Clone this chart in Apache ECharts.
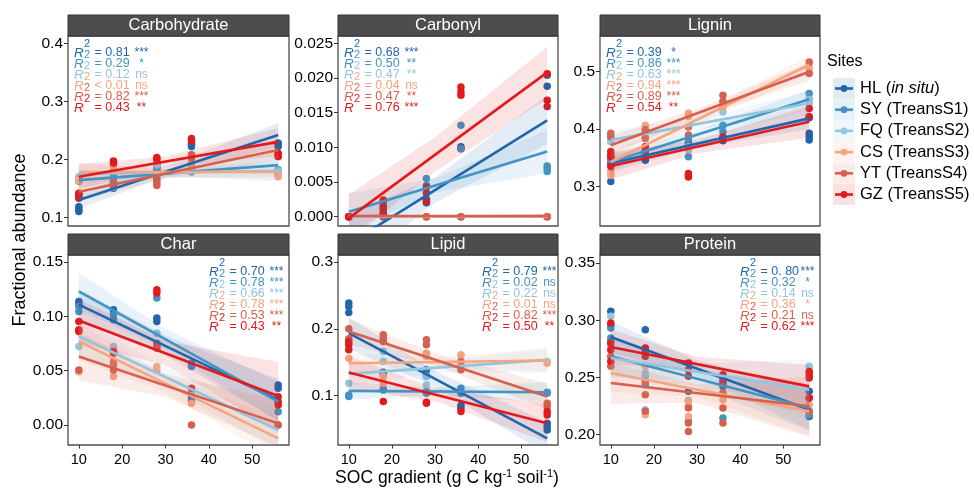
<!DOCTYPE html>
<html>
<head>
<meta charset="utf-8">
<script src="https://cdn.jsdelivr.net/npm/echarts@6/dist/echarts.min.js"></script>
<style>
  html, body { margin: 0; padding: 0; background: #fff; }
  #chart { width: 974px; height: 489px; }
</style>
</head>
<body>
<div id="chart"></div>
<script>
// sites and SOC levels
const siteNames = ['HL', 'SY', 'FQ', 'CS', 'YT', 'GZ']
const siteLabels = ['HL (in situ)', 'SY (TreansS1)', 'FQ (TreansS2)', 'CS (TreansS3)', 'YT (TreansS4)', 'GZ (TreansS5)']
const siteColors = ['#2166ac', '#4393c3', '#92c5de', '#f4a582', '#d6604d', '#e31a1c']
const socLevels = [10, 18, 28, 36, 56]
const fitX = [10, 56]
const bandX = [10, 30, 56]
const panelTitles = ['Carbohydrate', 'Carbonyl', 'Lignin', 'Char', 'Lipid', 'Protein']
const xTicks = [10, 20, 30, 40, 50]

// y axis ticks per panel
const carbohydrateTicks = [0.1, 0.2, 0.3, 0.4]
const carbonylTicks = [0, 0.005, 0.01, 0.015, 0.02, 0.025]
const ligninTicks = [0.3, 0.4, 0.5]
const charTicks = [0, 0.05, 0.1, 0.15]
const lipidTicks = [0.1, 0.2, 0.3]
const proteinTicks = [0.2, 0.25, 0.3, 0.35]

// points: per site, replicates at each SOC level
const carbohydratePoints = [
  [[0.110, 0.114, 0.118], [0.150, 0.155, 0.160], [0.178, 0.182, 0.190], [0.222, 0.226, 0.228], [0.222, 0.226, 0.228]],
  [[0.162, 0.166], [0.168, 0.172], [0.182, 0.186], [0.178, 0.182], [0.176, 0.182]],
  [[0.165, 0.170], [0.152, 0.160], [0.190, 0.195], [0.180, 0.184], [0.178, 0.180]],
  [[0.163, 0.166], [0.185, 0.190], [0.168, 0.172], [0.190, 0.194], [0.170, 0.173]],
  [[0.138, 0.142], [0.155, 0.160], [0.155, 0.160, 0.165], [0.203, 0.208], [0.205, 0.210]],
  [[0.133, 0.138, 0.140], [0.193, 0.197], [0.200, 0.203], [0.232, 0.236], [0.205, 0.210]]
]
const carbonylPoints = [
  [[0, 0], [0, 0.0005], [0.0020, 0.0025], [0.0098, 0.0101], [0.0188, 0.0204]],
  [[0, 0], [0.0015, 0.0020], [0.0055, 0.0045], [0.0132, 0.0098], [0.0065, 0.0070, 0.0073]],
  [[0], [0], [0], [0], [0]],
  [[0], [0], [0], [0], [0]],
  [[0, 0], [0, 0], [0, 0], [0, 0], [0, 0]],
  [[0, 0], [0.0024, 0.0014, 0.0010, 0.0005], [0.0043, 0.0034, 0.0022], [0.0187, 0.0180, 0.0175], [0.0206, 0.0168, 0.0159]]
]
const ligninPoints = [
  [[0.309, 0.340], [0.346, 0.356], [0.372, 0.376], [0.380, 0.386], [0.381, 0.387, 0.393, 0.420]],
  [[0.346, 0.350], [0.356, 0.360], [0.352, 0.381], [0.396, 0.407], [0.452, 0.462]],
  [[0.378, 0.385], [0.393, 0.386], [0.364, 0.370], [0.440, 0.430], [0.445, 0.451]],
  [[0.320, 0.326], [0.407, 0.400], [0.422, 0.428], [0.439, 0.443], [0.509, 0.505]],
  [[0.387, 0.393], [0.384, 0.399], [0.390, 0.404], [0.448, 0.459], [0.497, 0.517]],
  [[0.352, 0.355, 0.361, 0.335], [0.364, 0.370], [0.317, 0.323, 0.320], [0.384, 0.386], [0.422, 0.436]]
]
const charPoints = [
  [[0.1137, 0.1107], [0.106, 0.103], [0.0984, 0.0953], [0.0261, 0.023], [0.0369, 0.0338]],
  [[0.109, 0.1045], [0.1014, 0.0968], [0.1168], [0.0569, 0.0538], [0.0123]],
  [[0.0722], [0.0722], [0.0845], [0.030], [0.0]],
  [[0.049], [0.0446], [0.0538, 0.0507], [0.020], [0.0]],
  [[0.0507], [0.0584, 0.0553, 0.0507], [0.0753, 0.0722, 0.0707], [0.0], [0.0]],
  [[0.0953, 0.0876, 0.086], [0.0676, 0.066], [0.1245, 0.1214], [0.0338], [0.0261, 0.0215, 0.0184]]
]
const lipidPoints = [
  [[0.2385, 0.2335, 0.2245], [0.131, 0.135], [0.1385, 0.130], [0.081, 0.085], [0.0585, 0.0535, 0.0485]],
  [[0.101, 0.0985], [0.1085, 0.110], [0.1035, 0.106], [0.111, 0.1035], [0.1035, 0.105]],
  [[0.1185], [0.166, 0.151], [0.1285, 0.116], [0.160], [0.151]],
  [[0.156], [0.1285, 0.1185], [0.1635, 0.1585], [0.161], [0.1485]],
  [[0.185, 0.200], [0.191, 0.186, 0.181], [0.1835, 0.176], [0.151, 0.1435, 0.1385], [0.0885, 0.0835]],
  [[0.181, 0.176, 0.1685], [0.091], [0.0885, 0.090], [0.076], [0.076, 0.071]]
]
const proteinPoints = [
  [[0.3078, 0.2961], [0.2918], [0.2379], [0.2422], [0.2379, 0.216]],
  [[0.2932, 0.2845, 0.2824], [0.2437], [0.2117], [0.2146], [0.2175]],
  [[0.3034], [0.2539, 0.251, 0.2218], [0.230], [0.245], [0.2597]],
  [[0.2786], [0.2597, 0.2175], [0.2291, 0.2248, 0.216], [0.2306], [0.2262, 0.2204]],
  [[0.2685, 0.2597], [0.2466, 0.235, 0.2204], [0.2233, 0.2102, 0.2029], [0.2364, 0.2233, 0.2102], [0.232, 0.2204]],
  [[0.2976, 0.2801, 0.2743, 0.2641], [0.2757, 0.2728, 0.2685], [0.2626, 0.2568, 0.251], [0.2524, 0.2481, 0.2452], [0.2553, 0.2524, 0.2495, 0.232]]
]

// fitted lines: value at SOC 10 and 56
const carbohydrateFit = [[0.130, 0.242], [0.164, 0.190], [0.175, 0.180], [0.178, 0.178], [0.144, 0.216], [0.170, 0.230]]
const carbonylFit = [[-0.0039, 0.0139], [0.0007, 0.0094], [0.0000, 0.0001], [0.0001, 0.0000], [0.0001, 0.0001], [-0.0002, 0.0208]]
const ligninFit = [[0.3406, 0.4188], [0.343, 0.452], [0.381, 0.445], [0.343, 0.512], [0.372, 0.500], [0.336, 0.413]]
const charFit = [[0.1107, 0.0231], [0.123, 0.0215], [0.0815, -0.0046], [0.0769, -0.0123], [0.063, 0.0015], [0.0962, 0.0267]]
const lipidFit = [[0.1935, 0.036], [0.107, 0.105], [0.1325, 0.1535], [0.1485, 0.1525], [0.196, 0.0985], [0.1345, 0.0585]]
const proteinFit = [[0.2853, 0.2218], [0.2685, 0.2233], [0.267, 0.2393], [0.2539, 0.2204], [0.2451, 0.2248], [0.2766, 0.2422]]

// confidence bands at SOC 10, 30, 56
const carbohydrateBandLo = [[0.115, 0.170, 0.222], [0.150, 0.168, 0.170], [0.158, 0.170, 0.162], [0.162, 0.171, 0.164], [0.128, 0.167, 0.198], [0.148, 0.186, 0.206]]
const carbohydrateBandHi = [[0.145, 0.188, 0.262], [0.178, 0.182, 0.210], [0.192, 0.184, 0.198], [0.194, 0.185, 0.192], [0.160, 0.183, 0.234], [0.192, 0.205, 0.254]]
const carbonylBandLo = [[-0.008, 0.0020, 0.0105], [-0.002, 0.0035, 0.0063], [-0.0002, -0.0001, -0.0002], [-0.0002, -0.0001, -0.0002], [-0.0002, -0.0001, -0.0002], [-0.0035, 0.0065, 0.0170]]
const carbonylBandHi = [[0.0003, 0.0057, 0.0175], [0.0034, 0.0055, 0.0125], [0.0003, 0.0002, 0.0003], [0.0003, 0.0002, 0.0003], [0.0003, 0.0002, 0.0003], [0.0032, 0.0115, 0.0245]]
const ligninBandLo = [[0.325, 0.368, 0.400], [0.328, 0.382, 0.435], [0.364, 0.400, 0.424], [0.325, 0.408, 0.495], [0.355, 0.420, 0.484], [0.312, 0.358, 0.385]]
const ligninBandHi = [[0.356, 0.382, 0.437], [0.358, 0.398, 0.469], [0.398, 0.418, 0.466], [0.361, 0.424, 0.529], [0.389, 0.435, 0.516], [0.360, 0.381, 0.441]]
const charBandLo = [[0.096, 0.064, 0.004], [0.106, 0.070, 0.003], [0.064, 0.036, -0.024], [0.060, 0.030, -0.032], [0.041, 0.026, -0.020], [0.076, 0.055, -0.005]]
const charBandHi = [[0.125, 0.082, 0.042], [0.140, 0.088, 0.040], [0.099, 0.052, 0.015], [0.094, 0.046, 0.007], [0.085, 0.047, 0.023], [0.116, 0.077, 0.058]]
const lipidBandLo = [[0.170, 0.113, 0.012], [0.094, 0.100, 0.090], [0.114, 0.134, 0.134], [0.134, 0.143, 0.136], [0.177, 0.145, 0.079], [0.110, 0.092, 0.030]]
const lipidBandHi = [[0.217, 0.137, 0.060], [0.120, 0.112, 0.120], [0.151, 0.149, 0.173], [0.163, 0.157, 0.169], [0.215, 0.163, 0.118], [0.159, 0.111, 0.087]]
const proteinBandLo = [[0.272, 0.251, 0.204], [0.251, 0.242, 0.203], [0.250, 0.248, 0.213], [0.237, 0.233, 0.199], [0.227, 0.228, 0.198], [0.262, 0.255, 0.224]]
const proteinBandHi = [[0.299, 0.265, 0.240], [0.286, 0.256, 0.244], [0.284, 0.262, 0.266], [0.271, 0.246, 0.241], [0.263, 0.244, 0.251], [0.292, 0.268, 0.261]]

// R2 annotations
const carbohydrateR2 = ['= 0.81', '= 0.29', '= 0.12', '< 0.01', '= 0.82', '= 0.43']
const carbohydrateSig = ['***', '*', 'ns', 'ns', '***', '**']
const carbonylR2 = ['= 0.68', '= 0.50', '= 0.47', '= 0.04', '= 0.47', '= 0.76']
const carbonylSig = ['***', '**', '**', 'ns', '**', '***']
const ligninR2 = ['= 0.39', '= 0.86', '= 0.63', '= 0.94', '= 0.89', '= 0.54']
const ligninSig = ['*', '***', '***', '***', '***', '**']
const charR2 = ['= 0.70', '= 0.78', '= 0.66', '= 0.78', '= 0.53', '= 0.43']
const charSig = ['***', '***', '***', '***', '***', '**']
const lipidR2 = ['= 0.79', '= 0.02', '= 0.22', '= 0.01', '= 0.82', '= 0.50']
const lipidSig = ['***', 'ns', 'ns', 'ns', '***', '**']
const proteinR2 = ['= 0. 80', '= 0.32', '= 0.14', '= 0.36', '= 0.21', '= 0.62']
const proteinSig = ['***', '*', 'ns', '*', 'ns', '***']

let panels = [
  { pts: carbohydratePoints, fit: carbohydrateFit, lo: carbohydrateBandLo, hi: carbohydrateBandHi, ticks: carbohydrateTicks, r2: carbohydrateR2, sig: carbohydrateSig },
  { pts: carbonylPoints, fit: carbonylFit, lo: carbonylBandLo, hi: carbonylBandHi, ticks: carbonylTicks, r2: carbonylR2, sig: carbonylSig },
  { pts: ligninPoints, fit: ligninFit, lo: ligninBandLo, hi: ligninBandHi, ticks: ligninTicks, r2: ligninR2, sig: ligninSig },
  { pts: charPoints, fit: charFit, lo: charBandLo, hi: charBandHi, ticks: charTicks, r2: charR2, sig: charSig },
  { pts: lipidPoints, fit: lipidFit, lo: lipidBandLo, hi: lipidBandHi, ticks: lipidTicks, r2: lipidR2, sig: lipidSig },
  { pts: proteinPoints, fit: proteinFit, lo: proteinBandLo, hi: proteinBandHi, ticks: proteinTicks, r2: proteinR2, sig: proteinSig }
]

// layout (pixels)
const gridBox = [
  { left: 68, top: 36, width: 221, height: 190 },
  { left: 338, top: 36, width: 220, height: 190 },
  { left: 600, top: 36, width: 220, height: 190 },
  { left: 68, top: 255, width: 221, height: 190 },
  { left: 338, top: 255, width: 220, height: 190 },
  { left: 600, top: 255, width: 220, height: 190 }
]
const yRange = [[0.085, 0.4125], [-0.00134, 0.02605], [0.2317, 0.562], [-0.0184, 0.1564], [0.026, 0.3105], [0.191, 0.357]]
const yDecimals = [1, 3, 1, 2, 1, 2]
const noteOffset = [6, 6, 6, 141, 144, 140]

function rgba (hex, a) {
  let n = parseInt(hex.slice(1), 16)
  return 'rgba(' + (n >> 16) + ',' + ((n >> 8) & 255) + ',' + (n & 255) + ',' + a + ')'
}

const FONT = 'Liberation Sans, Arial, Helvetica, sans-serif'
let grids = []
let xAxes = []
let yAxes = []
let series = []
let graphics = []

panels.forEach((pn, p) => {
  let box = gridBox[p]
  let bottom = p >= 3
  grids.push({ left: box.left, top: box.top, width: box.width, height: box.height, show: true, borderColor: '#4d4d4d', borderWidth: 1.3, backgroundColor: '#fff' })
  xAxes.push({
    gridIndex: p, type: 'value', min: 7.5, max: 58.5, position: 'bottom',
    axisLine: { show: false, onZero: false }, splitLine: { show: false },
    axisTick: { show: bottom, customValues: xTicks, length: 3.5, lineStyle: { color: '#333' } },
    axisLabel: { show: bottom, customValues: xTicks, color: '#000', fontSize: 14.5, fontFamily: FONT, margin: 7 }
  })
  yAxes.push({
    gridIndex: p, type: 'value', min: yRange[p][0], max: yRange[p][1],
    axisLine: { show: false, onZero: false }, splitLine: { show: false },
    axisTick: { show: true, customValues: pn.ticks, length: 4, lineStyle: { color: '#333' } },
    axisLabel: { customValues: pn.ticks, color: '#000', fontSize: 15.5, fontFamily: FONT, margin: 5, formatter: v => v.toFixed(yDecimals[p]) }
  })

  siteNames.forEach((s, k) => {
    let data = []
    pn.pts[k].forEach((reps, i) => reps.forEach(v => data.push([socLevels[i], v])))
    series.push({
      type: 'scatter', name: s, xAxisIndex: p, yAxisIndex: p, z: 2 + k * 0.01,
      symbolSize: 7.5, data: data, itemStyle: { color: siteColors[k], opacity: 1 }, silent: true
    })
  })
  siteNames.forEach((s, k) => {
    let lo = pn.lo[k]
    let hi = pn.hi[k]
    series.push({
      type: 'custom', xAxisIndex: p, yAxisIndex: p, z: 3, clip: true, silent: true,
      data: bandX.map((x, i) => [x, lo[i], hi[i]]),
      renderItem: function (params, api) {
        if (params.dataIndex !== 0) return null
        let poly = []
        bandX.forEach((x, i) => poly.push(api.coord([x, hi[i]])))
        for (let i = bandX.length - 1; i >= 0; i--) poly.push(api.coord([bandX[i], lo[i]]))
        return { type: 'polygon', shape: { points: poly }, style: { fill: rgba(siteColors[k], 0.12) } }
      }
    })
  })
  siteNames.forEach((s, k) => {
    series.push({
      type: 'line', xAxisIndex: p, yAxisIndex: p, z: 4, clip: true, silent: true,
      showSymbol: false, symbol: 'none',
      data: fitX.map((x, i) => [x, pn.fit[k][i]]),
      lineStyle: { color: siteColors[k], width: 2.6 }
    })
  })

  // strip title
  graphics.push({
    type: 'rect', shape: { x: box.left, y: box.top - 21, width: box.width, height: 21 },
    style: { fill: '#4d4d4d', stroke: '#333', lineWidth: 1 }, z: 10
  })
  graphics.push({
    type: 'text', x: box.left + box.width / 2, y: box.top - 10.5, z: 11,
    style: { text: panelTitles[p], fill: '#fff', font: '16.5px ' + FONT, textAlign: 'center', textVerticalAlign: 'middle' }
  })

  // R2 notes
  let rx = box.left + noteOffset[p]
  let ry = box.top + 17
  siteNames.forEach((s, k) => {
    let y = ry + k * 11
    let c = siteColors[k]
    graphics.push({ type: 'text', x: rx, y: y, z: 12, style: { text: 'R', fill: c, font: 'italic 13.5px ' + FONT, textVerticalAlign: 'middle' } })
    graphics.push({ type: 'text', x: rx + 10, y: y - 9.5, z: 12, style: { text: '2', fill: c, font: '11px ' + FONT, textVerticalAlign: 'middle' } })
    graphics.push({ type: 'text', x: rx + 20.5, y: y, z: 12, style: { text: pn.r2[k], fill: c, font: '12.5px ' + FONT, textVerticalAlign: 'middle' } })
    graphics.push({ type: 'text', x: rx + 67.5, y: y, z: 12, style: { text: pn.sig[k], fill: c, font: '12px ' + FONT, textAlign: 'center', textVerticalAlign: 'middle' } })
  })
})

// legend
graphics.push({ type: 'text', x: 827, y: 62, style: { text: 'Sites', fill: '#000', font: '16px ' + FONT, textVerticalAlign: 'middle' } })
siteLabels.forEach((lab, k) => {
  let cy = 88.5 + k * 21.2
  let c = siteColors[k]
  graphics.push({ type: 'rect', shape: { x: 833, y: cy - 10.5, width: 22, height: 21 }, style: { fill: rgba(c, 0.13) } })
  graphics.push({ type: 'line', shape: { x1: 835, y1: cy, x2: 853, y2: cy }, style: { stroke: c, lineWidth: 2.6 } })
  graphics.push({ type: 'circle', shape: { cx: 844, cy: cy, r: 3.4 }, style: { fill: c } })
  let txt = k === 0 ? '{n|HL (}{i|in situ}{n|)}' : '{n|' + lab + '}'
  graphics.push({
    type: 'text', x: 860, y: cy,
    style: {
      text: txt, textVerticalAlign: 'middle',
      rich: { n: { fontSize: 16.5, fontFamily: FONT, fill: '#000' }, i: { fontSize: 16.5, fontFamily: FONT, fontStyle: 'italic', fill: '#000' } }
    }
  })
})

// axis titles
graphics.push({
  type: 'text', x: 20, y: 240, rotation: Math.PI / 2,
  style: { text: 'Fractional abundance', fill: '#000', font: '18px ' + FONT, textAlign: 'center', textVerticalAlign: 'middle' }
})
graphics.push({
  type: 'text', x: 447, y: 478,
  style: {
    text: '{n|SOC gradient (g C kg}{s|-1}{n| soil}{s|-1}{n|)}', textAlign: 'center', textVerticalAlign: 'middle',
    rich: {
      n: { fontSize: 17.5, fontFamily: FONT, fill: '#000', lineHeight: 20 },
      s: { fontSize: 11, fontFamily: FONT, fill: '#000', verticalAlign: 'top', lineHeight: 20, padding: [0, 0, 8, 0] }
    }
  }
})

let chart = echarts.init(document.getElementById('chart'), null, { renderer: 'canvas' })
chart.setOption({
  animation: false,
  backgroundColor: '#fff',
  grid: grids,
  xAxis: xAxes,
  yAxis: yAxes,
  series: series,
  graphic: { elements: graphics }
})
</script>
</body>
</html>
